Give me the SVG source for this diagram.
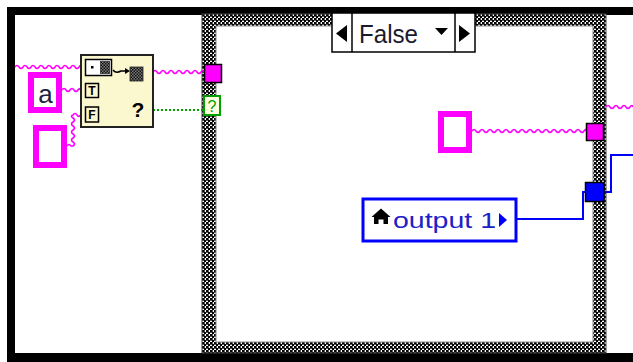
<svg xmlns="http://www.w3.org/2000/svg" width="633" height="362" viewBox="0 0 633 362">
<defs>
<pattern id="chk" width="4" height="4" patternUnits="userSpaceOnUse">
<rect width="4" height="4" fill="#fff"/>
<rect x="0" y="0" width="2" height="2" fill="#000"/>
<rect x="2" y="2" width="2" height="2" fill="#000"/>
<rect x="2" y="0" width="2" height="1" fill="#555"/>
<rect x="0" y="2" width="1" height="2" fill="#555"/>
</pattern>
<pattern id="dark" width="3" height="3" patternUnits="userSpaceOnUse">
<rect width="3" height="3" fill="#777"/>
<rect width="1.5" height="1.5" fill="#111"/>
<rect x="1.5" y="1.5" width="1.5" height="1.5" fill="#111"/>
</pattern>
<style>
.str{fill:none;stroke:#FF00FF;stroke-width:1.6}
.blu{fill:none;stroke:#0000FF;stroke-width:2}
.const{fill:#fff;stroke:#FF00FF;stroke-width:6}
.lbl{font-family:"Liberation Sans",Arial,sans-serif}
</style>
</defs>
<rect width="633" height="362" fill="#fff"/>

<g id="outer-frame" fill="#000">
<rect x="7" y="7" width="626" height="8"/>
<rect x="7" y="7" width="8" height="355"/>
<rect x="7" y="353" width="626" height="9"/>
</g>

<g id="case-structure">
<rect x="202" y="14" width="404" height="339" fill="url(#chk)" stroke="#444" stroke-width="1"/>
<rect x="216" y="26" width="377" height="316" fill="#fff" stroke="#888" stroke-width="1"/>
<g id="selector">
<rect x="332" y="13" width="143" height="39" fill="#fff" stroke="#000" stroke-width="1.5"/>
<line x1="352" y1="13" x2="352" y2="52" stroke="#000" stroke-width="1.5"/>
<line x1="455" y1="13" x2="455" y2="52" stroke="#000" stroke-width="1.5"/>
<polygon points="336,33.5 347,25 347,42" fill="#000"/>
<polygon points="459,25 459,42 470,33.5" fill="#000"/>
<polygon points="435,28 448,28 441.5,35" fill="#000"/>
<text class="lbl" x="359" y="43" font-size="25" fill="#1a1a2e" textLength="59" lengthAdjust="spacingAndGlyphs">False</text>
</g>
</g>

<g id="connectors">
<path class="str" d="M15,67 q2,-3 4,0 t4,0 t4,0 t4,0 t4,0 t4,0 t4,0 t4,0 t4,0 t4,0 t4,0 t4,0 t4,0 t4,0 t4,0 t4,0 t1,0"/>
<path class="str" d="M62,90 q2,-3 4,0 t4,0 t4,0 t4,0 t2,0"/>
<path class="str" d="M67,146 q2,-3 4,0 l2,0 q3,-2 0,-4 t0,-4 t0,-4 t0,-4 t0,-4 t0,-4 t0,-4 t0,-3 l0,0 q2,-3 4,0 t3,0"/>
<path class="str" d="M153,72 q2,-3 4,0 t4,0 t4,0 t4,0 t4,0 t4,0 t4,0 t4,0 t4,0 t4,0 t4,0 t4,0 t3,0"/>
<line x1="153" y1="110" x2="203" y2="110" stroke="#00A000" stroke-width="2" stroke-dasharray="2,2"/>
<path class="str" d="M472,131 q2,-3 4,0 t4,0 t4,0 t4,0 t4,0 t4,0 t4,0 t4,0 t4,0 t4,0 t4,0 t4,0 t4,0 t4,0 t4,0 t4,0 t4,0 t4,0 t4,0 t4,0 t4,0 t4,0 t4,0 t4,0 t4,0 t4,0 t4,0 t4,0 t2,0"/>
<path class="str" d="M606,107 q2,-3 4,0 t4,0 t4,0 t4,0 t4,0 t4,0 t3,0"/>
<polyline class="blu" points="516,219 583,219 583,192 586,192"/>
<polyline class="blu" points="605,192 611,192 611,155 633,155"/>
</g>

<g id="const-a">
<rect class="const" x="31" y="75" width="28" height="35"/>
<text class="lbl" x="45.5" y="103" font-size="26" text-anchor="middle" fill="#202040">a</text>
</g>
<g id="const-empty-left">
<rect class="const" x="36" y="128" width="28" height="37"/>
</g>
<g id="const-empty-case">
<rect class="const" x="441" y="114" width="28" height="36"/>
</g>

<g id="select-node">
<rect x="81" y="55" width="72" height="72" fill="#FBF7CF" stroke="#222" stroke-width="2"/>
<rect x="85.5" y="59.5" width="26" height="16" fill="#fff" stroke="#000" stroke-width="1.5"/>
<rect x="91" y="66" width="2.5" height="2.5" fill="#000"/>
<rect x="100" y="61" width="10" height="13" fill="url(#dark)"/>
<path d="M113,70 q3,4 8,1 l5,0" fill="none" stroke="#000" stroke-width="1.5"/>
<polygon points="125,68 130,71 125,74" fill="#000"/>
<rect x="130" y="67" width="13" height="14" fill="url(#dark)" stroke="#222" stroke-width="0.8"/>
<rect x="85.5" y="83.5" width="13" height="14" fill="#FBF7CF" stroke="#000" stroke-width="1.5"/>
<text class="lbl" x="92" y="95" font-size="12" font-weight="bold" text-anchor="middle" fill="#000">T</text>
<rect x="85.5" y="107" width="13" height="15" fill="#FBF7CF" stroke="#000" stroke-width="1.5"/>
<text class="lbl" x="92" y="119" font-size="12" font-weight="bold" text-anchor="middle" fill="#000">F</text>
<text class="lbl" x="138" y="117" font-size="21" font-weight="bold" text-anchor="middle" fill="#000">?</text>
</g>

<g id="tunnel-left-string">
<rect x="204.5" y="64.5" width="17" height="18" fill="#FF00FF" stroke="#000" stroke-width="1.5"/>
</g>
<g id="tunnel-left-variant">
<rect x="204" y="96" width="16" height="19" fill="#FFFFE0" stroke="#00A000" stroke-width="2"/>
<text class="lbl" x="212" y="112" font-size="16" text-anchor="middle" fill="#00A000">?</text>
</g>
<g id="tunnel-right-string">
<rect x="586.5" y="123.5" width="17" height="17" fill="#FF00FF" stroke="#000" stroke-width="1.5"/>
</g>
<g id="tunnel-right-ref">
<rect x="585.5" y="182.5" width="18.5" height="19" fill="#0000FF" stroke="#000" stroke-width="1.5"/>
</g>

<g id="output1-ref">
<rect x="363" y="199" width="153" height="42" fill="#fff" stroke="#0000FF" stroke-width="3"/>
<path d="M371.5,217 L381,208.5 L390.5,217 L388,217 L388,224 L383.5,224 L383.5,219.5 L378.5,219.5 L378.5,224 L374,224 L374,217 Z" fill="#000"/>
<text class="lbl" x="393" y="228" font-size="22" fill="#2020C8" textLength="103" lengthAdjust="spacingAndGlyphs">output 1</text>
<polygon points="499,213 507,220 499,227" fill="#0000FF"/>
</g>
</svg>
